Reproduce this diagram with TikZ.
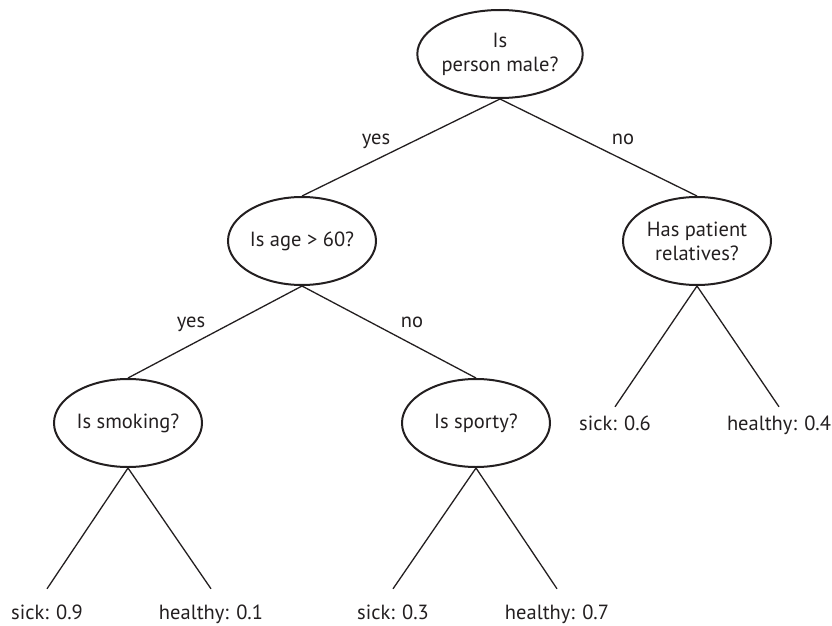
\documentclass[tikz,border=0pt]{standalone}
\usepackage{fontspec}
\setmainfont{PT Sans}
\usetikzlibrary{shapes.geometric}
\definecolor{ink}{HTML}{231F20}
\begin{document}
\begin{tikzpicture}[x=1pt,y=-1pt,
  every node/.style={text=ink},
  decision/.style={ellipse,draw=ink,line width=2pt,minimum width=148pt,minimum height=88pt,inner sep=0pt,align=center,font=\fontsize{20.5}{24}\selectfont},
  leaf/.style={inner sep=0pt,text height=#1,text depth=4pt,anchor=base,font=\fontsize{20.5}{24}\selectfont},
  lbl/.style={inner sep=0pt,anchor=base,font=\fontsize{20.5}{24}\selectfont},
  branch/.style={draw=ink,line width=1.3pt}]
\useasboundingbox (0,0) rectangle (832,626);
\node[decision] (root) at (500,54) {Is\\person male?};
\node[decision] (age) at (302,241) {Is age > 60?};
\node[decision] (has) at (697,241) {Has patient\\relatives?};
\node[decision] (smoke) at (128,423) {Is smoking?};
\node[decision] (sporty) at (476,423) {Is sporty?};
\node[leaf=30pt] (s1) at (47,619) {sick: 0.9};
\node[leaf=30pt] (h1) at (211,619) {healthy: 0.1};
\node[leaf=30pt] (s2) at (393,619) {sick: 0.3};
\node[leaf=30pt] (h2) at (557,619) {healthy: 0.7};
\node[leaf=23pt] (s3) at (615,430) {sick: 0.6};
\node[leaf=23pt] (h3) at (779,430) {healthy: 0.4};
\node[lbl] (y1) at (376,144) {yes};
\node[lbl] (n1) at (623,144) {no};
\node[lbl] (y2) at (191,327) {yes};
\node[lbl] (n2) at (412,327) {no};
\draw[branch] (root.south) -- (age.north);
\draw[branch] (root.south) -- (has.north);
\draw[branch] (age.south) -- (smoke.north);
\draw[branch] (age.south) -- (sporty.north);
\draw[branch] (smoke.south) -- (s1.north);
\draw[branch] (smoke.south) -- (h1.north);
\draw[branch] (sporty.south) -- (s2.north);
\draw[branch] (sporty.south) -- (h2.north);
\draw[branch] (has.south) -- (s3.north);
\draw[branch] (has.south) -- (h3.north);
\end{tikzpicture}
\end{document}
